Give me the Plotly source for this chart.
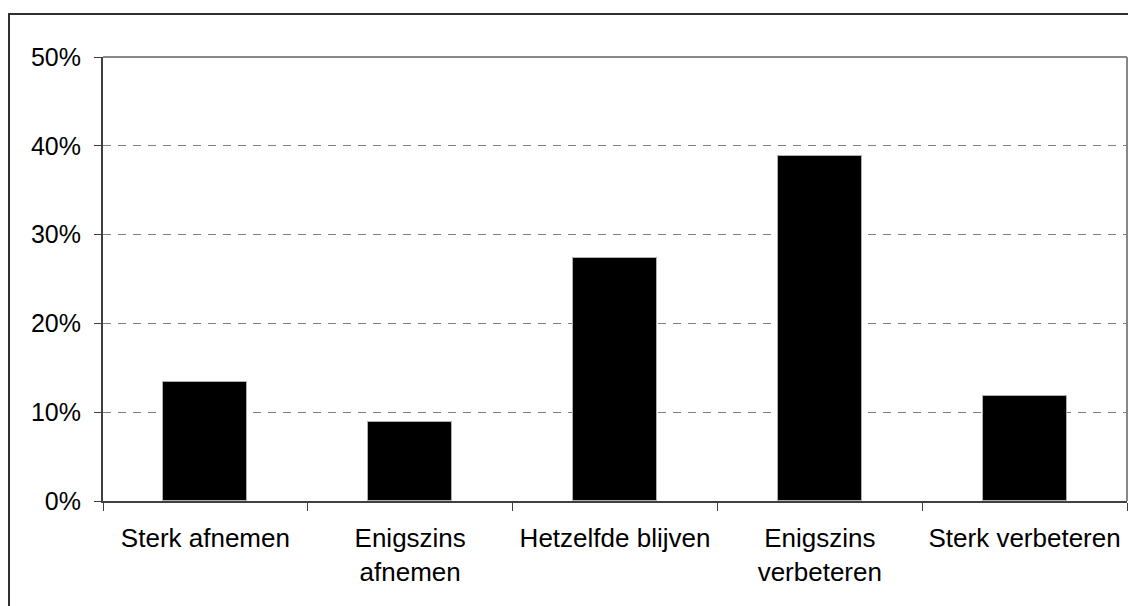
import plotly.graph_objects as go

# categories and shares (percent)
categories = ["Sterk afnemen", "Enigszins<br>afnemen", "Hetzelfde blijven",
              "Enigszins<br>verbeteren", "Sterk verbeteren"]
shares = [13.4, 8.9, 27.4, 38.8, 11.8]
y_ticks = [0, 10, 20, 30, 40, 50]
y_tick_labels = ["0%", "10%", "20%", "30%", "40%", "50%"]

fig = go.Figure()
fig.add_trace(go.Bar(
    x=categories, y=shares, width=0.41,
    marker=dict(color="black", line=dict(color="#b0b0b0", width=1)),
    hoverinfo="x+y",
))

# page body adds an 8px margin, so the figure is 8px smaller than the window
fig.update_layout(
    width=1128, height=598,
    margin=dict(l=95, r=9, t=49, b=105),
    paper_bgcolor="white", plot_bgcolor="white",
    font=dict(family="Liberation Sans, Arial", size=25, color="black"),
    showlegend=False,
    bargap=0,
)

fig.update_xaxes(
    type="category", range=[-0.5, 4.5],
    showline=True, linecolor="#404040", linewidth=2,
    ticks="outside", tickson="boundaries", ticklen=8, tickcolor="#404040", tickwidth=1,
    ticklabelstandoff=13, tickfont=dict(size=26),
    showgrid=False,
)
fig.update_yaxes(
    range=[0, 50], tickvals=y_ticks, ticktext=y_tick_labels,
    showline=True, linecolor="#404040", linewidth=2,
    ticks="outside", ticklen=7, tickcolor="#404040", tickwidth=1,
    ticklabelstandoff=8,
    showgrid=True, gridcolor="#808080", gridwidth=1, griddash="8px,7px",
    zeroline=False,
)

# top/right frame of the plot area, lighter gray
fig.add_shape(type="line", xref="paper", yref="paper", x0=0, x1=1, y0=1, y1=1,
              line=dict(color="#888888", width=2))
fig.add_shape(type="line", xref="paper", yref="paper", x0=1, x1=1, y0=0, y1=1,
              line=dict(color="#888888", width=2))

# outer chart border (only left and top fall inside the picture)
fig.add_shape(type="rect", xref="paper", yref="paper",
              x0=-94 / 1024, x1=1.2, y0=-0.5, y1=1 + 43 / 444,
              line=dict(color="#303030", width=2), layer="below")

fig.write_html("out.html")
